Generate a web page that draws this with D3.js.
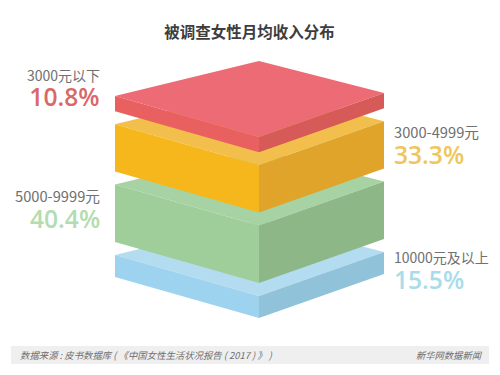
<!DOCTYPE html>
<html><head><meta charset="utf-8">
<script src="https://cdn.jsdelivr.net/npm/d3@7/dist/d3.min.js"></script>
<style>html,body{margin:0;padding:0;background:#fff}svg{display:block}text{font-family:"Noto Sans CJK SC","Noto Sans",sans-serif}</style>
</head><body><svg id="c" width="500" height="375"></svg>
<script>
const titleText = "被调查女性月均收入分布";
const categories = ["10000元及以上","5000-9999元","3000-4999元","3000元以下"];
const shares = [15.5,40.4,33.3,10.8];
const topColors = ["#b4dcf0","#a7d3a4","#f3bf4c","#ec6b74"];
const leftColors = ["#9dd3ee","#9fce9b","#f6b71d","#e8605f"];
const rightColors = ["#90c3d9","#8db786","#dfa429","#d55a58"];
const labelColors = ["#a9dcea","#b3dcb0","#efc65c","#d9686a"];
const sourceText = "数据来源 : 皮书数据库 ( 《中国女性生活状况报告 ( 2017 ) 》 )";
const creditText = "新华网数据新闻";

const svg = d3.select("#c");
const gapShare = 9.15;
const total = d3.sum(shares) + gapShare*3;
const y = d3.scaleLinear().domain([0,total]).range([318,137]);
const x = d3.scaleLinear().domain([-1,0,1]).range([115,259,384]);
const rise = {left:41, right:44, back:76};
const line = d3.line();

svg.append("text").attr("x",249.5).attr("y",37.5).attr("text-anchor","middle")
  .attr("font-size",15.5).attr("font-weight",700).attr("fill","#3d3d3d").text(titleText);

let cum = 0;
const layers = shares.map((v,i)=>{const b=cum; cum+=v; const t=cum; cum+=gapShare; return {i,v,b:y(b),t:y(t)};});
const g = svg.selectAll("g.layer").data(layers).join("g").attr("class","layer");
g.append("path").attr("fill",d=>topColors[d.i]).attr("d",d=>line([[x(-1),d.t-rise.left],[x(0),d.t-rise.back],[x(1),d.t-rise.right],[x(0),d.t]])+"Z");
g.append("path").attr("fill",d=>leftColors[d.i]).attr("d",d=>line([[x(-1),d.t-rise.left],[x(0),d.t],[x(0),d.b],[x(-1),d.b-rise.left]])+"Z");
g.append("path").attr("fill",d=>rightColors[d.i]).attr("d",d=>line([[x(1),d.t-rise.right],[x(0),d.t],[x(0),d.b],[x(1),d.b-rise.right]])+"Z");

const labelPos = [{x:394,y:263,a:"start",fs:14},{x:15,y:202,a:"start",fs:14.7},{x:394,y:138,a:"start",fs:14.7},{x:100,y:80.5,a:"end",fs:14}];
labelPos.forEach((p,i)=>{
  svg.append("text").attr("x",p.x).attr("y",p.y).attr("text-anchor",p.a)
    .attr("font-size",p.fs).attr("fill","#707070").text(categories[i]);
  svg.append("text").attr("x",i==1?30:(i==3?99.5:p.x)).attr("y",p.y+25.5).attr("text-anchor",p.a)
    .style("font-family","Open Sans").attr("font-size",24.6).attr("font-weight",600)
    .attr("fill",labelColors[i]).text(d3.format(".1f")(shares[i])+"%");
});

svg.append("rect").attr("x",11).attr("y",346).attr("width",478).attr("height",18).attr("fill","#efefef");
svg.append("text").attr("x",20).attr("y",358.5).attr("font-size",9.39).attr("font-style","italic").attr("fill","#6e6e6e").text(sourceText);
svg.append("text").attr("x",481).attr("y",358.5).attr("text-anchor","end").attr("font-size",9.3).attr("font-style","italic").attr("fill","#6e6e6e").text(creditText);
</script></body></html>
